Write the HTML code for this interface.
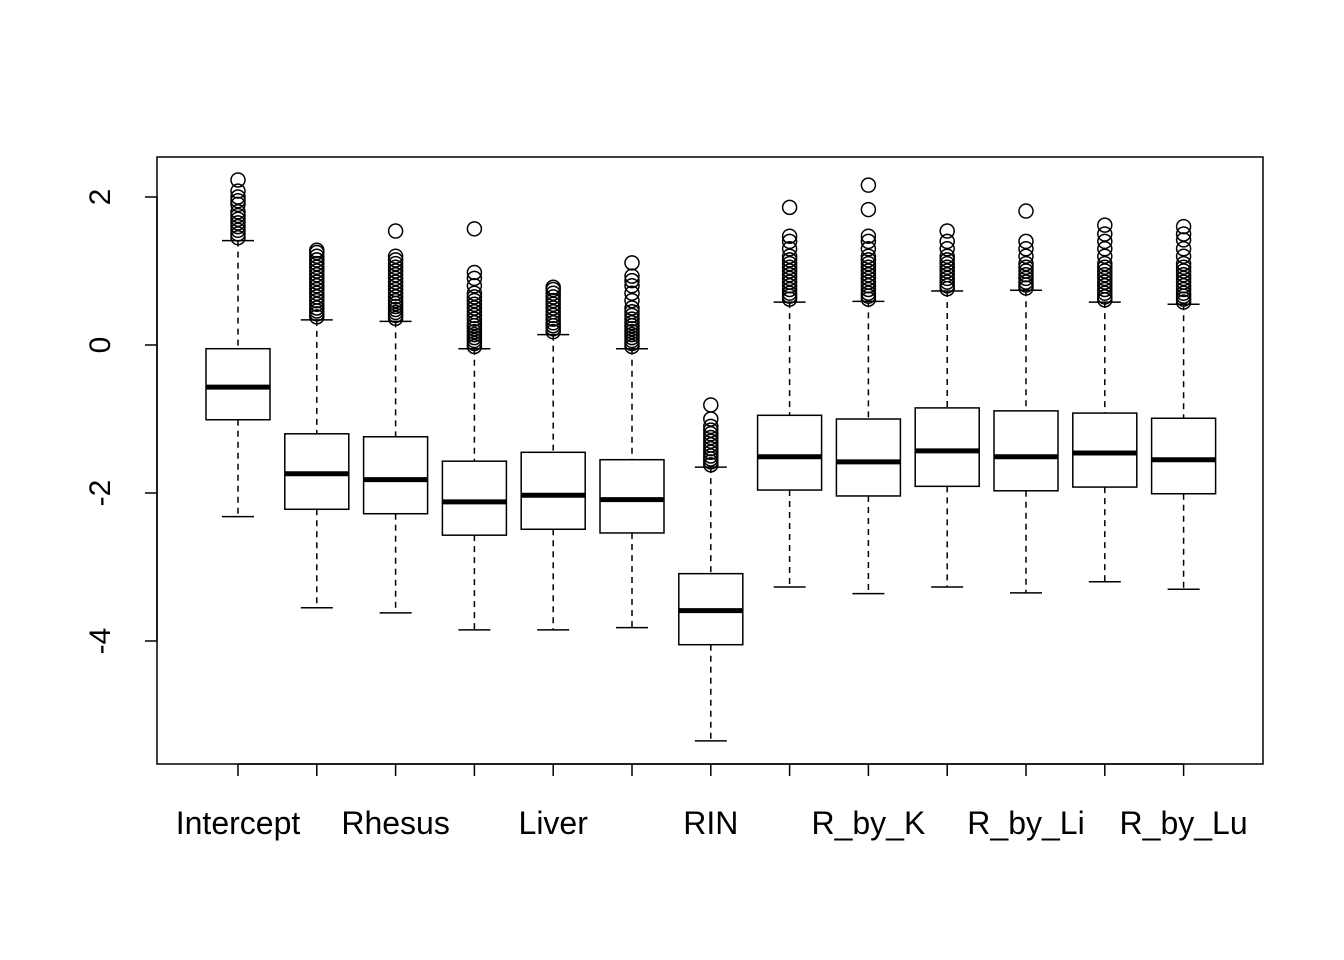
<!DOCTYPE html>
<html><head><meta charset="utf-8"><style>
html,body{margin:0;padding:0;background:#fff;}
svg{display:block;font-family:"Liberation Sans",Arial,sans-serif;}
</style></head><body>
<svg id="chart" width="1344" height="960" viewBox="0 0 1344 960" xmlns="http://www.w3.org/2000/svg"></svg>
<script>
const categories = ["Intercept","Chimp","Rhesus","Kidney","Liver","Lung","RIN","R_by_H","R_by_K","C_by_Li","R_by_Li","C_by_Lu","R_by_Lu"];
const shownLabels = ["Intercept","","Rhesus","","Liver","","RIN","","R_by_K","","R_by_Li","","R_by_Lu"];
const lowerWhisker = [-2.32,-3.55,-3.62,-3.85,-3.85,-3.82,-5.35,-3.27,-3.36,-3.27,-3.35,-3.20,-3.30];
const q1 = [-1.01,-2.22,-2.28,-2.57,-2.49,-2.54,-4.05,-1.96,-2.04,-1.91,-1.97,-1.92,-2.01];
const medians = [-0.57,-1.74,-1.82,-2.12,-2.03,-2.09,-3.59,-1.51,-1.58,-1.43,-1.51,-1.46,-1.55];
const q3 = [-0.05,-1.20,-1.24,-1.57,-1.45,-1.55,-3.09,-0.95,-1.00,-0.85,-0.89,-0.92,-0.99];
const upperWhisker = [1.41,0.34,0.32,-0.05,0.14,-0.05,-1.65,0.58,0.59,0.73,0.74,0.58,0.55];
const outliers = [
 [1.45,1.5,1.55,1.6,1.65,1.7,1.75,1.8,1.9,1.95,2.0,2.08,2.23],
 [0.38,0.42,0.46,0.5,0.55,0.6,0.65,0.7,0.75,0.8,0.85,0.9,0.95,1.0,1.05,1.1,1.15,1.2,1.25,1.28],
 [0.36,0.4,0.44,0.48,0.52,0.56,0.6,0.65,0.7,0.75,0.8,0.85,0.9,0.95,1.0,1.05,1.1,1.15,1.2,1.54],
 [-0.02,0.02,0.06,0.1,0.14,0.18,0.22,0.26,0.3,0.35,0.4,0.45,0.5,0.55,0.6,0.65,0.7,0.8,0.9,0.98,1.57],
 [0.18,0.22,0.26,0.3,0.35,0.4,0.45,0.5,0.55,0.6,0.65,0.7,0.75,0.78],
 [-0.02,0.02,0.06,0.1,0.14,0.18,0.22,0.26,0.3,0.35,0.4,0.45,0.5,0.6,0.7,0.8,0.87,0.93,1.11],
 [-1.62,-1.58,-1.54,-1.5,-1.45,-1.4,-1.35,-1.3,-1.25,-1.2,-1.15,-1.1,-1.0,-0.81],
 [0.62,0.66,0.7,0.75,0.8,0.85,0.9,0.95,1.0,1.05,1.1,1.15,1.2,1.3,1.4,1.47,1.86],
 [0.62,0.66,0.7,0.75,0.8,0.85,0.9,0.95,1.0,1.05,1.1,1.15,1.2,1.3,1.4,1.47,1.83,2.16],
 [0.76,0.8,0.85,0.9,0.95,1.0,1.05,1.1,1.15,1.2,1.3,1.4,1.54],
 [0.77,0.81,0.85,0.9,0.95,1.0,1.05,1.1,1.2,1.3,1.4,1.81],
 [0.61,0.65,0.7,0.75,0.8,0.85,0.9,0.95,1.0,1.05,1.1,1.2,1.3,1.4,1.5,1.62],
 [0.58,0.62,0.66,0.7,0.75,0.8,0.85,0.9,0.95,1.0,1.05,1.1,1.2,1.3,1.42,1.5,1.6]
];
const yTicks = [2,0,-2,-4];

const NS="http://www.w3.org/2000/svg";
const svg=document.getElementById('chart');
const plot={l:157,r:1263,t:157,b:764};
const yScale=v=>345-v*74;
const xScale=i=>238+i*78.8;
function el(tag,attrs,parent){const e=document.createElementNS(NS,tag);for(const k in attrs)e.setAttribute(k,attrs[k]);(parent||svg).appendChild(e);return e;}

const frame=el('rect',{x:plot.l,y:plot.t,width:plot.r-plot.l,height:plot.b-plot.t,fill:'none',stroke:'#000','stroke-width':1.5});



const yAxis=el('g',{});


el('line',{x1:plot.l,x2:plot.l,y1:yScale(2),y2:yScale(-4),stroke:'#000','stroke-width':1.5},yAxis);
yTicks.forEach(v=>{
  const y=yScale(v);
  el('line',{x1:plot.l-12,x2:plot.l,y1:y,y2:y,stroke:'#000','stroke-width':1.5},yAxis);
  const t=el('text',{x:110,y:y,'font-size':30,'text-anchor':'middle',transform:`rotate(-90 110 ${y})`},yAxis);
  t.textContent=String(v);
  
  
});

const xAxis=el('g',{});


el('line',{x1:xScale(0),x2:xScale(categories.length-1),y1:plot.b,y2:plot.b,stroke:'#000','stroke-width':1.5},xAxis);
categories.forEach((c,i)=>{
  const x=xScale(i);
  el('line',{x1:x,x2:x,y1:plot.b,y2:plot.b+12,stroke:'#000','stroke-width':1.5},xAxis);
  if(shownLabels[i]){
    const t=el('text',{x:x,y:834,'font-size':32,'text-anchor':'middle'},xAxis);
    t.textContent=shownLabels[i];
    
    
  }
});

categories.forEach((c,i)=>{
  const x=xScale(i), hw=32;
  const g=el('g',{});
  
  
  el('line',{x1:x,x2:x,y1:yScale(upperWhisker[i]),y2:yScale(q3[i]),stroke:'#000','stroke-width':1.5,'stroke-dasharray':'6,5'},g);
  el('line',{x1:x,x2:x,y1:yScale(q1[i]),y2:yScale(lowerWhisker[i]),stroke:'#000','stroke-width':1.5,'stroke-dasharray':'6,5'},g);
  el('line',{x1:x-16,x2:x+16,y1:yScale(upperWhisker[i]),y2:yScale(upperWhisker[i]),stroke:'#000','stroke-width':1.5},g);
  el('line',{x1:x-16,x2:x+16,y1:yScale(lowerWhisker[i]),y2:yScale(lowerWhisker[i]),stroke:'#000','stroke-width':1.5},g);
  el('rect',{x:x-hw,y:yScale(q3[i]),width:2*hw,height:yScale(q1[i])-yScale(q3[i]),fill:'#fff',stroke:'#000','stroke-width':1.5},g);
  el('line',{x1:x-hw,x2:x+hw,y1:yScale(medians[i]),y2:yScale(medians[i]),stroke:'#000','stroke-width':5},g);
  outliers[i].forEach(v=>{
    const p=el('circle',{cx:x,cy:yScale(v),r:7,fill:'none',stroke:'#000','stroke-width':1.5},g);
    
    
  });
});
</script>
</body></html>
